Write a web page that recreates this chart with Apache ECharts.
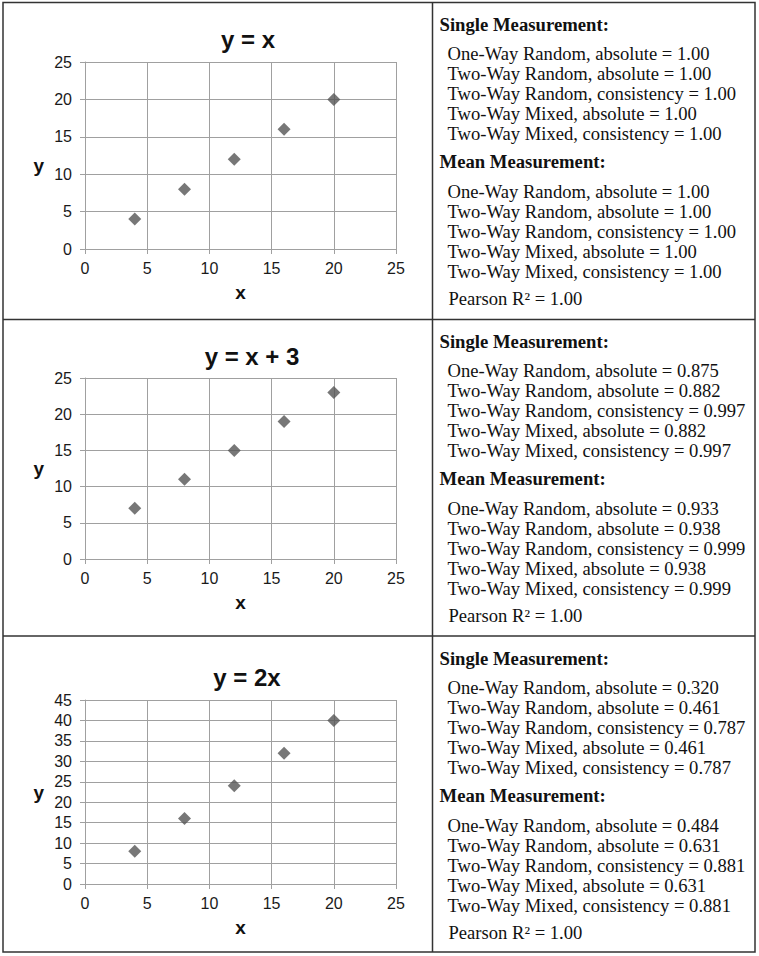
<!DOCTYPE html>
<html><head><meta charset="utf-8">
<script src="https://cdn.jsdelivr.net/npm/echarts@6/dist/echarts.min.js"></script>
<style>html,body{margin:0;padding:0;background:#fff;}#c{width:759px;height:956px;}</style>
</head><body><div id="c"></div>
<script>
// ---- data ----
const xValues = [4, 8, 12, 16, 20];
const yValuesIdentity = [4, 8, 12, 16, 20];
const yValuesShift = [7, 11, 15, 19, 23];
const yValuesDouble = [8, 16, 24, 32, 40];
const panelTitles = ['y = x', 'y = x + 3', 'y = 2x'];
const xAxisMax = 25;
const yAxisMax = [25, 25, 45];
const axisInterval = 5;
const measureLabels = [
  'One-Way Random, absolute',
  'Two-Way Random, absolute',
  'Two-Way Random, consistency',
  'Two-Way Mixed, absolute',
  'Two-Way Mixed, consistency'
];
const singleValuesIdentity = ['1.00', '1.00', '1.00', '1.00', '1.00'];
const meanValuesIdentity = ['1.00', '1.00', '1.00', '1.00', '1.00'];
const singleValuesShift = ['0.875', '0.882', '0.997', '0.882', '0.997'];
const meanValuesShift = ['0.933', '0.938', '0.999', '0.938', '0.999'];
const singleValuesDouble = ['0.320', '0.461', '0.787', '0.461', '0.787'];
const meanValuesDouble = ['0.484', '0.631', '0.881', '0.631', '0.881'];
const pearsonValues = ['1.00', '1.00', '1.00'];

// ---- layout ----
const yLists = [yValuesIdentity, yValuesShift, yValuesDouble];
const singleLists = [singleValuesIdentity, singleValuesShift, singleValuesDouble];
const meanLists = [meanValuesIdentity, meanValuesShift, meanValuesDouble];
const grids = [
  {left: 85, top: 62, width: 311, height: 187},
  {left: 85, top: 378, width: 311, height: 181},
  {left: 85, top: 700, width: 311, height: 184}
];
const titlePos = [[248, 39.5], [252, 356], [247, 677]];
const yNameAlign = ['top', 'middle', 'middle'];
const rowTops = [2, 319, 636];
const SANS = 'Liberation Sans, Arial, sans-serif';
const SERIF = 'Liberation Serif, Times New Roman, serif';
const gridColor = '#a0a0a0';

const chart = echarts.init(document.getElementById('c'), null, {renderer: 'svg'});

const xAxes = [], yAxes = [], series = [], graphics = [];
for (let i = 0; i < 3; i++) {
  xAxes.push({
    type: 'value', gridIndex: i, min: 0, max: xAxisMax, interval: axisInterval,
    name: 'x', nameLocation: 'middle', nameGap: 34,
    nameTextStyle: {fontFamily: SANS, fontSize: 19, fontWeight: 'bold', color: '#111'},
    axisLine: {show: true, onZero: false, lineStyle: {color: gridColor, width: 1}},
    axisTick: {show: true, length: 5, inside: false, lineStyle: {color: gridColor}},
    axisLabel: {fontFamily: SANS, fontSize: 16, color: '#1a1a1a', margin: 11},
    splitLine: {show: true, lineStyle: {color: gridColor, width: 1}}
  });
  yAxes.push({
    type: 'value', gridIndex: i, min: 0, max: yAxisMax[i], interval: axisInterval,
    name: 'y', nameLocation: 'middle', nameGap: 41, nameRotate: 0,
    nameTextStyle: {fontFamily: SANS, fontSize: 19, fontWeight: 'bold', color: '#111', verticalAlign: yNameAlign[i]},
    axisLine: {show: true, onZero: false, lineStyle: {color: gridColor, width: 1}},
    axisTick: {show: true, length: 5, inside: false, lineStyle: {color: gridColor}},
    axisLabel: {fontFamily: SANS, fontSize: 16, color: '#1a1a1a', margin: 13},
    splitLine: {show: true, lineStyle: {color: gridColor, width: 1}}
  });
  series.push({
    type: 'scatter', xAxisIndex: i, yAxisIndex: i,
    symbol: 'diamond', symbolSize: 13,
    itemStyle: {color: '#555555'},
    data: xValues.map((x, k) => [x, yLists[i][k]])
  });
  // panel title
  graphics.push({
    type: 'text', x: titlePos[i][0], y: titlePos[i][1],
    style: {text: panelTitles[i], font: 'bold 24px ' + SANS, fill: '#111', align: 'center', verticalAlign: 'middle'}
  });
  // right-hand statistics
  const top = rowTops[i];
  graphics.push({
    type: 'text', x: 439.5, y: top + 22,
    style: {text: 'Single Measurement:', font: 'bold 18.7px ' + SERIF, fill: '#111', align: 'left', verticalAlign: 'middle'}
  });
  measureLabels.forEach((lab, k) => {
    graphics.push({
      type: 'text', x: 447.5, y: top + 51.5 + 20 * k,
      style: {text: lab + ' = ' + singleLists[i][k], font: '18.6px ' + SERIF, fill: '#111', align: 'left', verticalAlign: 'middle'}
    });
  });
  graphics.push({
    type: 'text', x: 439.5, y: top + 159.5,
    style: {text: 'Mean Measurement:', font: 'bold 18.7px ' + SERIF, fill: '#111', align: 'left', verticalAlign: 'middle'}
  });
  measureLabels.forEach((lab, k) => {
    graphics.push({
      type: 'text', x: 447.5, y: top + 189 + 20 * k,
      style: {text: lab + ' = ' + meanLists[i][k], font: '18.6px ' + SERIF, fill: '#111', align: 'left', verticalAlign: 'middle'}
    });
  });
  graphics.push({
    type: 'text', x: 448.5, y: top + 296.5,
    style: {text: 'Pearson R\u00B2 = ' + pearsonValues[i], font: '18.6px ' + SERIF, fill: '#111', align: 'left', verticalAlign: 'middle'}
  });
}
// table borders
const borderStyle = {stroke: '#333333', lineWidth: 1.5, fill: null};
graphics.push({type: 'rect', shape: {x: 3, y: 2.5, width: 752, height: 949.5}, style: borderStyle, z: 10});
graphics.push({type: 'line', shape: {x1: 432.5, y1: 2.5, x2: 432.5, y2: 952}, style: borderStyle, z: 10});
graphics.push({type: 'line', shape: {x1: 3, y1: 319.5, x2: 755, y2: 319.5}, style: borderStyle, z: 10});
graphics.push({type: 'line', shape: {x1: 3, y1: 636, x2: 755, y2: 636}, style: borderStyle, z: 10});

chart.setOption({
  backgroundColor: '#ffffff',
  animation: false,
  grid: grids.map(g => Object.assign({containLabel: false}, g)),
  xAxis: xAxes,
  yAxis: yAxes,
  series: series,
  graphic: graphics
});
</script></body></html>
